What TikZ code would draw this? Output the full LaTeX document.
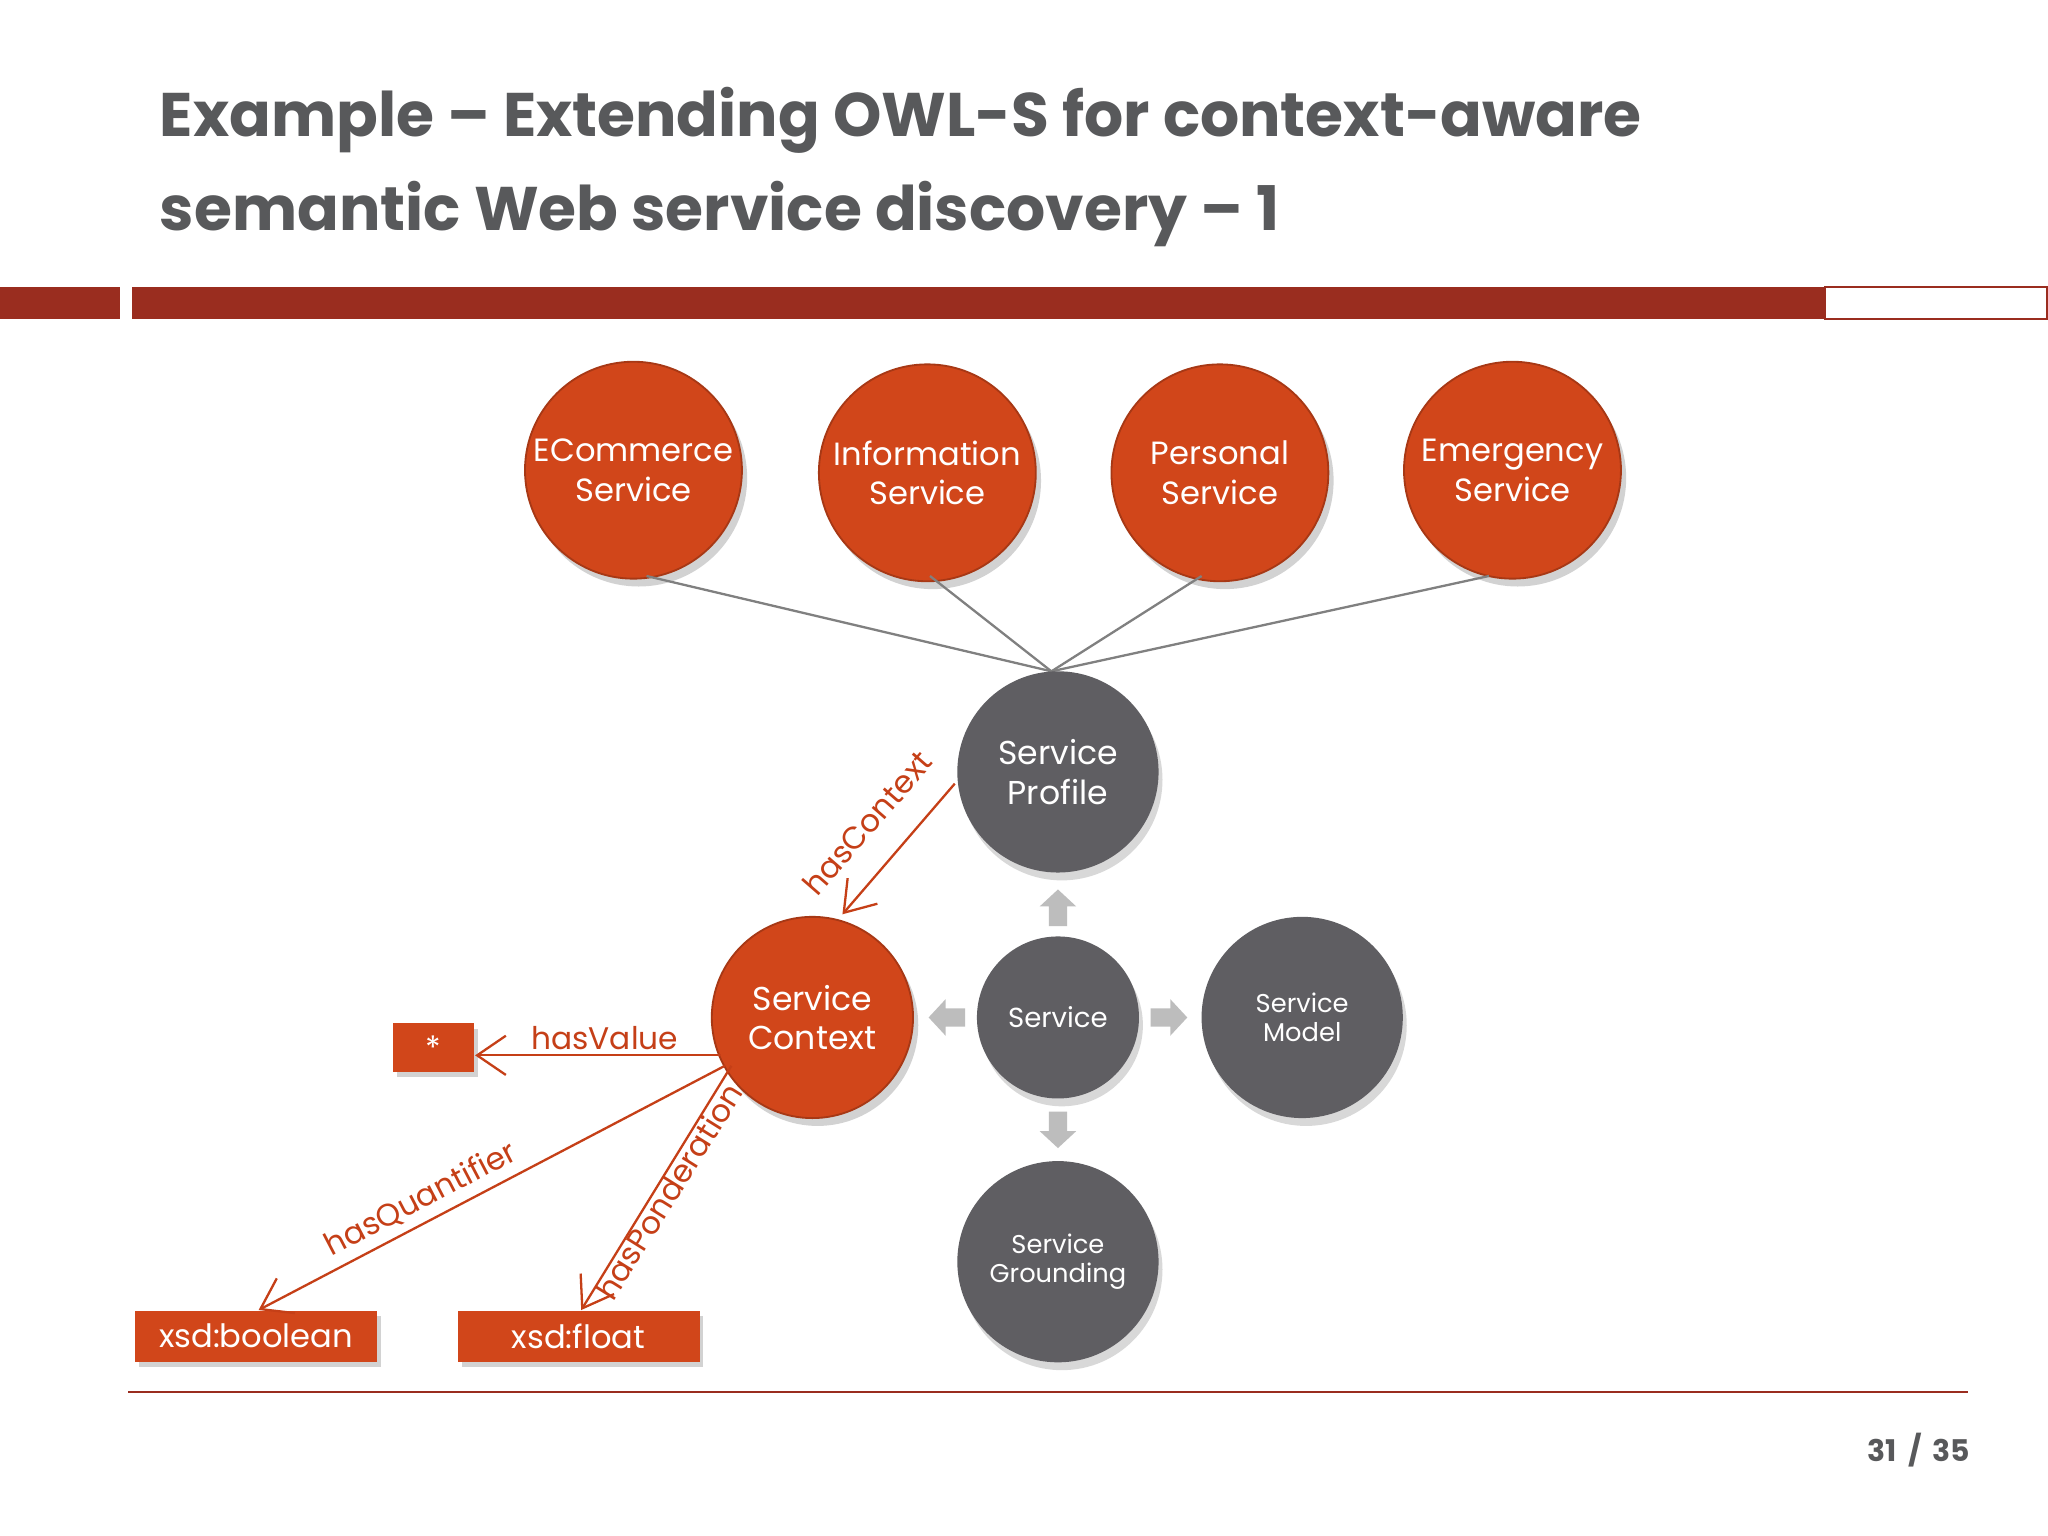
\documentclass[tikz,border=0pt]{standalone}
\usepackage{fontspec}
\setmainfont{Poppins}
\usetikzlibrary{shadows,arrows.meta}
\definecolor{org}{HTML}{D1461A}
\definecolor{orgT}{HTML}{C53F17}
\definecolor{gry}{HTML}{5F5E62}
\definecolor{ttl}{HTML}{58595B}
\definecolor{barred}{HTML}{9A2D1F}
\definecolor{lgry}{HTML}{BDBDBD}
\begin{document}
\begin{tikzpicture}[x=0.01cm,y=-0.01cm,
  oc/.style={circle,fill=org,draw=org!80!black,inner sep=0pt,text=white,align=center,font=\fontsize{7}{8.6}\selectfont,drop shadow={opacity=0.35,shadow xshift=0.4mm,shadow yshift=-0.6mm}},
  gc/.style={circle,fill=gry,inner sep=0pt,minimum size=#1,text=white,align=center,drop shadow={opacity=0.3,shadow xshift=0.3mm,shadow yshift=-0.6mm}},
  box/.style={fill=org,text=white,inner sep=0pt,font=\fontsize{7}{8}\selectfont,drop shadow={opacity=0.35,shadow xshift=0.3mm,shadow yshift=-0.4mm}},
  rel/.style={draw=orgT,line width=0.5pt,-{Straight Barb[length=2.2mm,width=3mm]}},
  lab/.style={text=orgT,font=\fontsize{6.8}{8}\selectfont},
  blk/.pic={\fill[lgry] (-7,0) -- (-7,-9) -- (-14,-9) -- (0,-22) -- (14,-9) -- (7,-9) -- (7,6) -- (-7,6) -- cycle;}]
\useasboundingbox (0,0) rectangle (1568,1176);
\fill[white] (0,0) rectangle (1568,1176);
\node[anchor=west,text=ttl,align=left,font=\fontsize{13.4}{20.5}\selectfont\bfseries] (title) at (110,128) {Example – Extending OWL-S for context-aware\\semantic Web service discovery – 1};
\fill[barred] (0,220) rectangle (92,244);
\fill[barred] (101,220) rectangle (1397,244);
\draw[barred,line width=0.4pt] (1397,220) rectangle (1567,244);
\draw[barred,line width=0.5pt] (98,1066) -- (1507,1066);
\node[anchor=east,text=ttl,font=\fontsize{6.5}{8}\selectfont\bfseries] (pg) at (1521,1110) {31 \,/\, 35};

\node[oc,minimum size=1.66cm] (ec) at (485,360) {ECommerce\\Service};
\node[oc,minimum size=1.66cm] (is) at (710,362) {Information\\Service};
\node[oc,minimum size=1.66cm] (ps) at (934,362) {Personal\\Service};
\node[oc,minimum size=1.66cm] (es) at (1158,360) {Emergency\\Service};
\coordinate (hub) at (805,514);
\foreach \n/\x in {ec/495,is/712,ps/920,es/1140}
  \draw[gray,line width=0.5pt] (\x,441) -- (hub);

\node[gc=1.54cm,font=\fontsize{7.2}{8.6}\selectfont] (sp) at (810,591) {Service\\Profile};
\node[gc=1.24cm,font=\fontsize{6}{7}\selectfont] (sv) at (810,779) {Service};
\node[gc=1.54cm,font=\fontsize{5.6}{6.4}\selectfont] (sm) at (997,779) {Service\\Model};
\node[gc=1.54cm,font=\fontsize{5.6}{6.4}\selectfont] (sg) at (810,966) {Service\\Grounding};
\node[oc,minimum size=1.54cm,font=\fontsize{7.2}{8.6}\selectfont] (sc) at (622,779) {Service\\Context};

\pic at (810,703) {blk};
\pic[rotate=90] at (733,779) {blk};
\pic[rotate=-90] at (887,779) {blk};
\pic[rotate=180] at (810,857) {blk};

\node[box,minimum width=0.62cm,minimum height=0.37cm] (star) at (332,802) {*};
\node[box,minimum width=1.85cm,minimum height=0.39cm] (xb) at (196,1023) {xsd:boolean};
\node[box,minimum width=1.85cm,minimum height=0.39cm] (xf) at (443,1023) {xsd:float};

\coordinate (c1) at (731,600); \coordinate (c2) at (645,700);
\draw[rel] (c1) -- (c2);
\node[lab,rotate=49] at (664,630) {hasContext};
\coordinate (v1) at (552,808);
\draw[rel] (v1) -- (star.east |- v1);
\node[lab] at (463,795) {hasValue};
\coordinate (q1) at (555,816); \coordinate (q2) at (198,1003);
\draw[rel] (q1) -- (q2);
\node[lab,rotate=27.6] at (322,918) {hasQuantifier};
\coordinate (p1) at (560,816); \coordinate (p2) at (445,1003);
\draw[rel] (p1) -- (p2);
\node[lab,rotate=58] at (512,912) {hasPonderation};
\end{tikzpicture}
\end{document}
